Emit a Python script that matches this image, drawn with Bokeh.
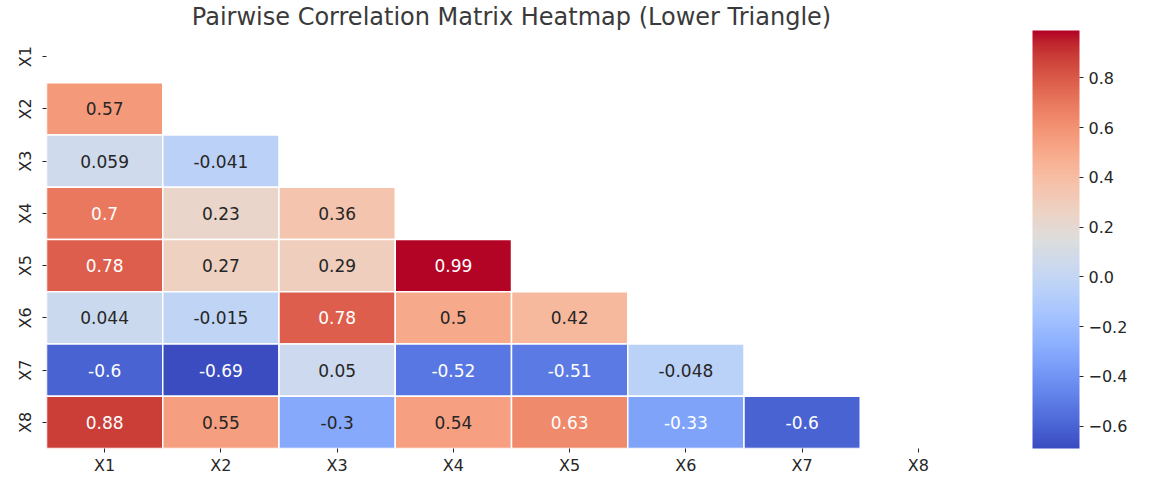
import numpy as np
from bokeh.plotting import figure
from bokeh.models import (ColumnDataSource, LinearColorMapper, ColorBar, FixedTicker,
                          CustomJSTickFormatter)
from bokeh.transform import transform
from bokeh.core.properties import value
from bokeh.embed import file_html
from bokeh.resources import INLINE

# ---------------- data ----------------
variables = ["X1", "X2", "X3", "X4", "X5", "X6", "X7", "X8"]
# lower-triangle correlations, row Xi against columns X1..X(i-1)
row_X2 = [0.57]
row_X3 = [0.059, -0.041]
row_X4 = [0.7, 0.23, 0.36]
row_X5 = [0.78, 0.27, 0.29, 0.99]
row_X6 = [0.044, -0.015, 0.78, 0.5, 0.42]
row_X7 = [-0.6, -0.69, 0.05, -0.52, -0.51, -0.048]
row_X8 = [0.88, 0.55, -0.3, 0.54, 0.63, -0.33, -0.6]
colorbar_ticks = [-0.6, -0.4, -0.2, 0.0, 0.2, 0.4, 0.6, 0.8]

rows = {"X2": row_X2, "X3": row_X3, "X4": row_X4, "X5": row_X5,
        "X6": row_X6, "X7": row_X7, "X8": row_X8}

# ---------------- coolwarm colormap ----------------
coolwarm_anchors = [
    (59, 76, 192), (68, 90, 204), (77, 104, 215), (87, 117, 225), (98, 130, 234),
    (108, 142, 241), (119, 154, 247), (130, 165, 251), (141, 176, 254), (152, 185, 255),
    (163, 194, 255), (174, 201, 253), (184, 208, 249), (194, 213, 244), (204, 217, 238),
    (213, 219, 230), (221, 221, 221), (229, 216, 209), (236, 211, 197), (241, 204, 185),
    (245, 196, 173), (247, 187, 160), (247, 177, 148), (247, 166, 135), (244, 154, 123),
    (241, 141, 111), (236, 127, 99), (229, 112, 88), (222, 96, 77), (213, 80, 66),
    (203, 62, 56), (192, 40, 47), (180, 4, 38)]
anc = np.array(coolwarm_anchors, dtype=float)
anc_pos = np.linspace(0, 1, len(anc))
lut_pos = np.linspace(0, 1, 256)
lut = np.stack([np.interp(lut_pos, anc_pos, anc[:, k]) for k in range(3)], axis=1)
palette = ["#%02x%02x%02x" % tuple(int(round(c)) for c in rgb) for rgb in lut]

xs, ys, vals = [], [], []
for r, rv in rows.items():
    for j, v in enumerate(rv):
        xs.append(variables[j])
        ys.append(r)
        vals.append(v)

vmin, vmax = min(vals), max(vals)


def text_color(v):
    # light text on dark cells, dark text on light cells (relative luminance)
    t = (v - vmin) / (vmax - vmin)
    idx = min(255, max(0, int(t * 256)))
    rgb = lut[idx] / 255.0
    lin = np.where(rgb <= 0.03928, rgb / 12.92, ((rgb + 0.055) / 1.055) ** 2.4)
    lum = 0.2126 * lin[0] + 0.7152 * lin[1] + 0.0722 * lin[2]
    return "#262626" if lum > 0.40 else "#ffffff"


def fmt(v):
    return ("%.2g" % v)

source = ColumnDataSource(dict(
    x=xs, y=ys, v=vals,
    label=[fmt(v) for v in vals],
    tcolor=[text_color(v) for v in vals]))

mapper = LinearColorMapper(palette=palette, low=vmin, high=vmax)

LEFT, FW, RIGHT = 46, 930, 159
TOP, FH, BOTTOM = 30, 418, 27
p = figure(frame_width=FW, frame_height=FH, output_backend="svg", toolbar_location=None,
           x_range=variables, y_range=list(reversed(variables)),
           min_border_left=LEFT, min_border_right=RIGHT, min_border_top=TOP,
           min_border_bottom=BOTTOM, border_fill_color="white")

p.title.text = "Pairwise Correlation Matrix Heatmap (Lower Triangle)"
p.title.text_font = "DejaVu Sans"
p.title.text_font_size = "24px"
p.title.text_font_style = "normal"
p.title.text_color = "#3a3a3a"
p.title.align = "center"
p.title.standoff = 0
p.title.offset = 0

p.rect(x="x", y="y", width=1, height=1, source=source,
       fill_color=transform("v", mapper), line_color="white", line_width=1.5)
p.text(x="x", y="y", text="label", source=source, text_color="tcolor",
       text_align="center", text_baseline="middle",
       text_font=value("DejaVu Sans"), text_font_size="17px")

p.outline_line_color = None
p.grid.grid_line_color = None
for ax in (p.xaxis[0], p.yaxis[0]):
    ax.axis_label = None
    ax.axis_line_color = None
    ax.major_tick_in = 0
    ax.major_tick_out = 4
    ax.major_tick_line_color = "#262626"
    ax.minor_tick_line_color = None
    ax.major_label_text_font = "DejaVu Sans"
    ax.major_label_text_font_size = "16px"
    ax.major_label_text_color = "#262626"
p.xaxis[0].major_label_standoff = 3
p.yaxis[0].major_label_standoff = 8
p.yaxis[0].major_label_orientation = "vertical"

cbar = ColorBar(color_mapper=mapper, width=47, height=FH,
                location=(FW + 56, 0),
                ticker=FixedTicker(ticks=colorbar_ticks),
                formatter=CustomJSTickFormatter(code="return (tick < -1e-9 ? '\u2212' : '') + Math.abs(tick).toFixed(1);"),
                major_tick_in=0, major_tick_out=4, major_tick_line_color="#262626",
                minor_tick_line_color=None, bar_line_color=None,
                major_label_text_font="DejaVu Sans", major_label_text_font_size="16px",
                major_label_text_color="#262626", label_standoff=5,
                margin=0, padding=0, border_line_color=None, background_fill_color=None)
p.add_layout(cbar, "center")

open("out.html", "w").write(file_html(p, INLINE))
